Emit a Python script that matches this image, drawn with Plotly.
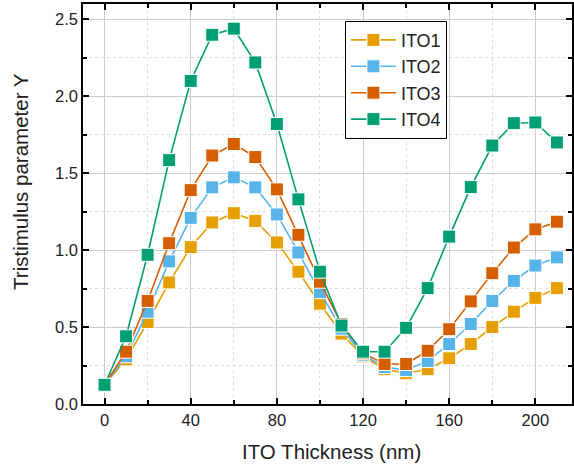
import plotly.graph_objects as go

thickness = [0, 10, 20, 30, 40, 50, 60, 70, 80, 90, 100, 110, 120, 130, 140, 150, 160, 170, 180, 190, 200, 210]
ito1 = [0.125, 0.29, 0.533, 0.79, 1.02, 1.18, 1.24, 1.19, 1.05, 0.86, 0.652, 0.458, 0.31, 0.226, 0.20, 0.226, 0.297, 0.39, 0.50, 0.60, 0.69, 0.753]
ito2 = [0.125, 0.31, 0.60, 0.927, 1.21, 1.408, 1.473, 1.408, 1.232, 0.985, 0.727, 0.49, 0.32, 0.24, 0.22, 0.28, 0.39, 0.52, 0.67, 0.80, 0.90, 0.953]
ito3 = [0.125, 0.34, 0.67, 1.045, 1.39, 1.615, 1.69, 1.605, 1.395, 1.10, 0.795, 0.52, 0.33, 0.26, 0.26, 0.346, 0.486, 0.667, 0.85, 1.017, 1.135, 1.185]
ito4 = [0.125, 0.44, 0.97, 1.585, 2.10, 2.40, 2.44, 2.22, 1.82, 1.33, 0.86, 0.51, 0.34, 0.34, 0.495, 0.753, 1.088, 1.41, 1.68, 1.825, 1.83, 1.70]

names = ["ITO1", "ITO2", "ITO3", "ITO4"]
colors = ["#E69F00", "#56B4E9", "#D55E00", "#009E73"]
series = [ito1, ito2, ito3, ito4]

x_title = "ITO Thickness (nm)"
y_title = "Tristimulus parameter Y"

fig = go.Figure()
for name, col, ys in zip(names, colors, series):
    fig.add_trace(go.Scatter(
        x=thickness, y=ys, name=name, mode="lines+markers",
        line=dict(color=col, width=1.6),
        marker=dict(symbol="square", size=13, color=col, line=dict(color="white", width=1)),
    ))

font = "Liberation Sans, Arial, sans-serif"
axis_common = dict(
    showline=True, linecolor="black", linewidth=1.5, mirror="ticks",
    ticks="inside", ticklen=6, tickwidth=1.5, tickcolor="black",
    showgrid=True, gridcolor="#cccccc", gridwidth=1,
    zeroline=False,
    tickfont=dict(family=font, size=16.5, color="#222"),
)

fig.update_xaxes(
    range=[-10, 217], tickmode="array", tickvals=[0, 40, 80, 120, 160, 200],
    minor=dict(dtick=20, tick0=0, ticks="inside", ticklen=4, tickcolor="black",
               showgrid=True, gridcolor="#dddddd", griddash="dot", gridwidth=1),
    **axis_common,
)
fig.update_yaxes(
    range=[0, 2.6], tickmode="array", tickvals=[0, 0.5, 1.0, 1.5, 2.0, 2.5], tickformat=".1f",
    minor=dict(dtick=0.25, tick0=0, ticks="inside", ticklen=4, tickcolor="black",
               showgrid=True, gridcolor="#dddddd", griddash="dot", gridwidth=1),
    **axis_common,
)

fig.add_annotation(
    text=x_title, xref="paper", yref="paper",
    x=(333 - 83) / 491, y=(404.3 - 452) / 400,
    xanchor="center", yanchor="middle", showarrow=False,
    font=dict(family=font, size=20.5, color="#222"),
)
fig.add_annotation(
    text=y_title, xref="paper", yref="paper", textangle=-90,
    x=(20 - 83) / 491, y=(404.3 - 182) / 400,
    xanchor="center", yanchor="middle", showarrow=False,
    font=dict(family=font, size=20.5, color="#222"),
)

fig.update_layout(
    width=574, height=468,
    margin=dict(l=83, r=0, t=4, b=64),
    plot_bgcolor="white", paper_bgcolor="white",
    showlegend=True,
    legend=dict(
        x=(346 - 83) / 491, y=(404.3 - 21) / 400, xanchor="left", yanchor="top",
        bordercolor="black", borderwidth=1, bgcolor="white",
        font=dict(family=font, size=18, color="#222"),
        tracegroupgap=0, itemwidth=45,
    ),
)

fig.write_html("out.html")
